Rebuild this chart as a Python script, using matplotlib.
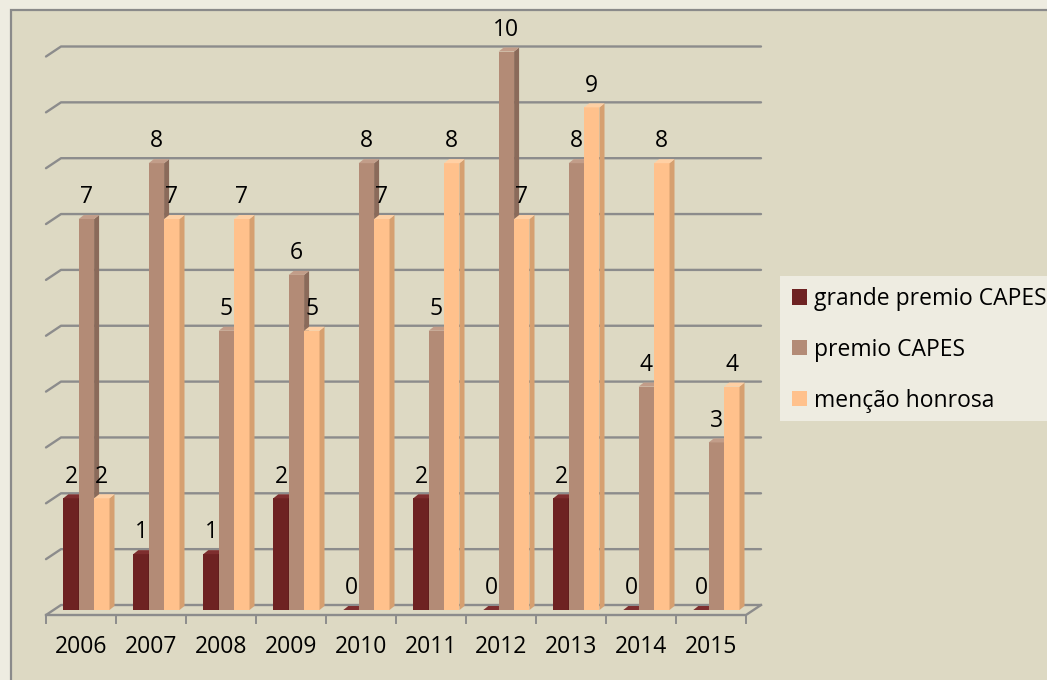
import matplotlib.pyplot as plt
from matplotlib.patches import Rectangle, Patch

years = ["2006", "2007", "2008", "2009", "2010", "2011", "2012", "2013", "2014", "2015"]
grande = [2, 1, 1, 2, 0, 2, 0, 2, 0, 0]
premio = [7, 8, 5, 6, 8, 5, 10, 8, 4, 3]
mencao = [2, 7, 7, 5, 7, 8, 7, 9, 8, 4]
series_names = ["grande premio CAPES", "premio CAPES", "menção honrosa"]

# front / side / top colours of each series
face_cols = ["#6E2222", "#B38B76", "#FFC18C"]
side_cols = ["#4A1515", "#8A6A5A", "#D6A070"]
top_cols = ["#7E2E2E", "#C29D89", "#FFD0A4"]

W, H = 1047, 680
PX, PY = 70.0, 55.85      # pixels per category / per unit of value
X0, Y0 = 88.5, 610.0      # pixel of category 0 / value 0 (bar plane)

plt.rcParams["font.family"] = ["Open Sans", "DejaVu Sans"]
FS = 16.5

fig = plt.figure(figsize=(W / 100, H / 100), dpi=100)
fig.patch.set_facecolor("#EEECE1")
# chart area with its grey frame
fig.add_artist(Rectangle((11 / W, -0.1), 1.5, 1 - 10 / H + 0.1, transform=fig.transFigure,
                         facecolor="#DDD9C3", edgecolor="#8A8A8A", linewidth=1.6, zorder=0))

ax = fig.add_axes([0, 0, 1, 1])
ax.set_xlim(-X0 / PX, (W - X0) / PX)
ax.set_ylim(-(H - Y0) / PY, Y0 / PY)
ax.axis("off")

# depth of the fake 3D box
dep_x, dep_y = 15 / PX, 10 / PY
x_lo, x_hi = -0.5, 9.5
grid_col = "#8C8C8C"

# back wall gridlines with their little floor stubs
for v in range(11):
    ax.plot([x_lo - dep_x / 2, x_lo + dep_x / 2, x_hi + dep_x / 2],
            [v - dep_y / 2, v + dep_y / 2, v + dep_y / 2],
            color=grid_col, lw=1.7, solid_capstyle="round", zorder=1)

# front edge of the floor and the category ticks
ax.plot([x_lo - dep_x / 2, x_hi - dep_x / 2, x_hi + dep_x / 2],
        [-dep_y / 2, -dep_y / 2, dep_y / 2], color=grid_col, lw=1.7, zorder=1)
for i in range(len(years) + 1):
    xt = x_lo + i - dep_x / 2
    ax.plot([xt, xt], [-dep_y / 2, -dep_y / 2 - 8 / PY], color=grid_col, lw=1.4, zorder=1)

for i, yr in enumerate(years):
    ax.text(i - dep_x / 2, (Y0 - 647) / PY, yr, ha="center", va="center", fontsize=FS)

# bars: front face via ax.bar, then side and top faces
bw = 0.22
sx, sy = 5 / PX, 4 / PY
shift = -0.03
for k, vals in enumerate([grande, premio, mencao]):
    xs = [i + shift + (k - 1) * bw for i in range(len(years))]
    z = 3 + k
    ax.bar(xs, vals, width=bw, color=face_cols[k], zorder=z, linewidth=0)
    for x, v in zip(xs, vals):
        r = x + bw / 2
        l = x - bw / 2
        ax.fill([r, r + sx, r + sx, r], [0, sy, v + sy, v], color=side_cols[k], zorder=z, lw=0)
        ax.fill([l, l + sx, r + sx, r], [v, v + sy, v + sy, v], color=top_cols[k], zorder=z, lw=0)
        ax.text(x, v + 0.39, str(v), ha="center", va="center", fontsize=FS, zorder=10)

# legend on its light panel
fig.add_artist(Rectangle((780 / W, 1 - 421 / H), 0.5, 145 / H, transform=fig.transFigure,
                         facecolor="#EEECE1", edgecolor="none", zorder=1))
handles = [Patch(facecolor=c, edgecolor="none") for c in face_cols]
leg = fig.legend(handles, series_names, loc="upper left",
                 bbox_to_anchor=(792 / W, 1 - 287 / H), frameon=False, fontsize=FS,
                 handlelength=0.66, handleheight=0.66, handletextpad=0.3,
                 labelspacing=1.17, borderaxespad=0, borderpad=0)
leg.set_zorder(5)

fig.savefig("out.png", dpi=100, facecolor=fig.get_facecolor())
